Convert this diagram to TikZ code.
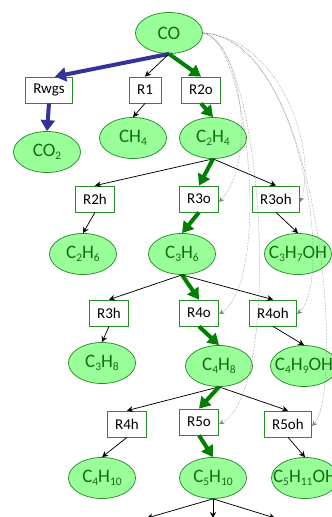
\documentclass[tikz,border=0pt]{standalone}
\usepackage{fontspec}
\setmainfont{Carlito}
\usetikzlibrary{arrows.meta, shapes.geometric}
\definecolor{specfill}{RGB}{153,255,153}
\definecolor{specline}{RGB}{40,140,40}
\definecolor{spectext}{RGB}{20,110,20}
\definecolor{mainpath}{RGB}{0,128,0}
\definecolor{wgsblue}{RGB}{51,51,153}
\newcommand{\sbs}[1]{\raisebox{-0.3ex}{\fontsize{11.5}{12}\selectfont #1}}
\tikzset{>=Stealth,
	species/.style={shape=ellipse, draw=specline, line width=0.75pt, fill=specfill, text=spectext, minimum width=67pt, minimum height=41pt, inner xsep=-10pt, inner ysep=0pt, font=\fontsize{19}{21}\selectfont},
	reac/.style={shape=rectangle, draw=specline, line width=0.75pt, fill=white, minimum height=26pt, inner xsep=8pt, inner ysep=0pt, font=\fontsize{15}{17}\selectfont},
	side/.style={-{Stealth[length=6pt, width=6pt]}, line width=0.75pt},
	mainstep/.style={-{Triangle[length=11pt, width=13pt]}, line width=4pt, draw=mainpath},
	wgsstep/.style={-{Triangle[length=11pt, width=14pt]}, line width=4pt, draw=wgsblue},
	feed/.style={-{Stealth[length=5pt, width=5pt]}, densely dotted, line width=0.5pt, draw=gray}
}
\begin{document}
\begin{tikzpicture}[x=1pt, y=-1pt]
	\useasboundingbox (0, 0) rectangle (332, 517);
	\clip (0, 0) rectangle (332, 517);
	% Species and reactions:
	\node[species] (co) at (169, 33){CO};
	\node[reac] (rwgs) at (49, 90){Rwgs};
	\node[reac] (r1) at (145, 90){R1};
	\node[reac] (r2o) at (201, 90){R2o};
	\node[species] (co2) at (47, 152){CO\sbs{2}};
	\node[species] (ch4) at (133, 138){CH\sbs{4}};
	\node[species] (c2h4) at (213, 138){C\sbs{2}H\sbs{4}};
	\node[reac] (r2h) at (95, 199){R2h};
	\node[reac] (r3o) at (199, 199){R3o};
	\node[reac] (r3oh) at (276, 199){R3oh};
	\node[species] (c2h6) at (83, 254){C\sbs{2}H\sbs{6}};
	\node[species] (c3h6) at (182, 254){C\sbs{3}H\sbs{6}};
	\node[species] (c3h7oh) at (298, 254){C\sbs{3}H\sbs{7}OH};
	\node[reac] (r3h) at (109, 313){R3h};
	\node[reac] (r4o) at (199, 313){R4o};
	\node[reac] (r4oh) at (273, 313){R4oh};
	\node[species] (c3h8) at (102, 363){C\sbs{3}H\sbs{8}};
	\node[species] (c4h8) at (219, 366){C\sbs{4}H\sbs{8}};
	\node[species] (c4h9oh) at (304, 366){C\sbs{4}H\sbs{9}OH};
	\node[reac] (r4h) at (127, 424){R4h};
	\node[reac] (r5o) at (199, 422){R5o};
	\node[reac] (r5oh) at (288, 424){R5oh};
	\node[species] (c4h10) at (102, 478){C\sbs{4}H\sbs{10}};
	\node[species] (c5h10) at (213, 478){C\sbs{5}H\sbs{10}};
	\node[species] (c5h11oh) at (305, 478){C\sbs{5}H\sbs{11}OH};
	\coordinate (r5h) at (147, 518);
	\coordinate (r6o) at (213, 518);
	\coordinate (r6oh) at (275, 518);
	% Connectors:
	\draw[wgsstep] (co.south) -- ([xshift=6pt]rwgs.north);
	\draw[wgsstep] (rwgs.south) -- (co2.north);
	\draw[side] (co.south) -- (r1.north);
	\draw[side] (r1.south) -- (ch4.north);
	\draw[mainstep] (co.south) -- (r2o.north);
	\draw[mainstep] (r2o.south) -- (c2h4.north);
	\draw[side] (c2h4.south) -- (r2h.north);
	\draw[mainstep] (c2h4.south) -- (r3o.north);
	\draw[side] (c2h4.south) -- (r3oh.north);
	\draw[side] (r2h.south) -- (c2h6.north);
	\draw[mainstep] (r3o.south) -- (c3h6.north);
	\draw[side] (r3oh.south) -- (c3h7oh.north);
	\draw[side] (c3h6.south) -- (r3h.north);
	\draw[mainstep] (c3h6.south) -- (r4o.north);
	\draw[side] (c3h6.south) -- (r4oh.north);
	\draw[side] (r3h.south) -- (c3h8.north);
	\draw[mainstep] (r4o.south) -- (c4h8.north);
	\draw[side] (r4oh.south) -- (c4h9oh.north);
	\draw[side] (c4h8.south) -- (r4h.north);
	\draw[mainstep] (c4h8.south) -- (r5o.north);
	\draw[side] (c4h8.south) -- (r5oh.north);
	\draw[side] (r4h.south) -- (c4h10.north);
	\draw[mainstep] (r5o.south) -- (c5h10.north);
	\draw[side] (r5oh.south) -- (c5h11oh.north);
	\draw[side] (c5h10.south) -- (r5h);
	\draw[side] (c5h10.south) -- (r6o);
	\draw[side] (c5h10.south) -- (r6oh);
	% CO feed to the later steps:
	\draw[feed] (co.east) .. controls (240, 40) and (258, 160) .. ([yshift=-3pt]r3o.east);
	\draw[feed] (co.east) .. controls (280, 38) and (318, 150) .. ([yshift=-3pt]r3oh.east);
	\draw[feed] (co.east) .. controls (248, 38) and (272, 280) .. ([yshift=-1pt]r4o.east);
	\draw[feed] (co.east) .. controls (300, 38) and (335, 280) .. ([yshift=-1pt]r4oh.east);
	\draw[feed] (co.east) .. controls (262, 38) and (285, 390) .. ([yshift=-2pt]r5o.east);
	\draw[feed] (co.east) .. controls (322, 38) and (345, 390) .. ([yshift=-2pt]r5oh.east);
\end{tikzpicture}
\end{document}
